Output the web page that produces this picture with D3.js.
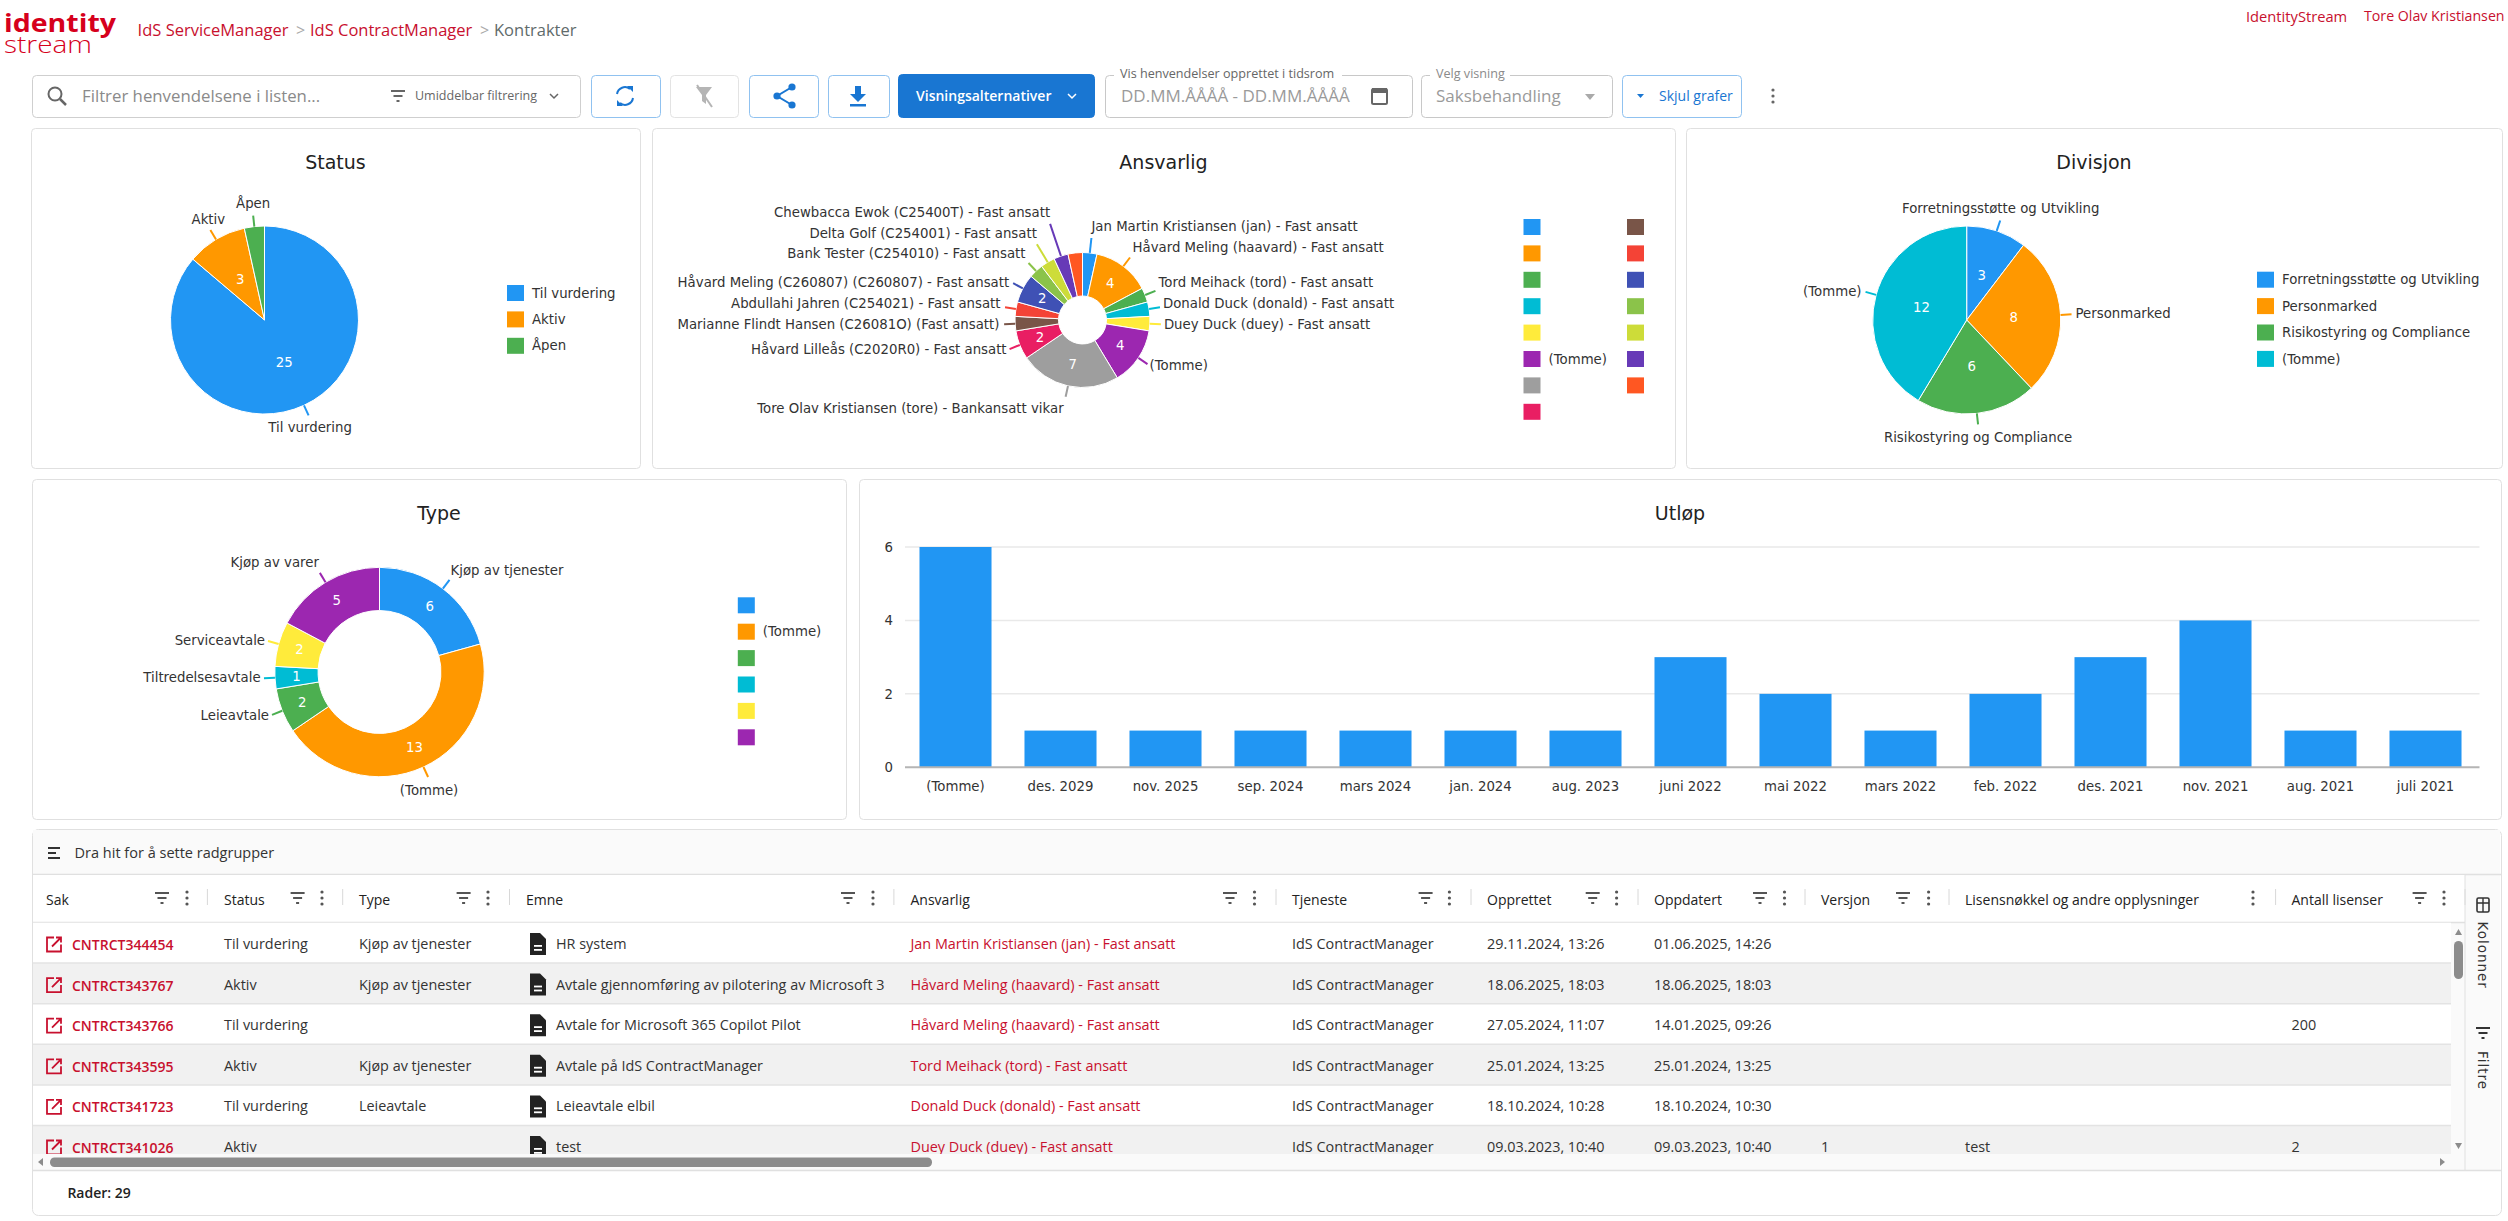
<!DOCTYPE html>
<html>
<head>
<meta charset="utf-8">
<title>Kontrakter</title>
<script src="https://cdn.jsdelivr.net/npm/d3@7"></script>
<style>
  html, body { margin: 0; padding: 0; background: #fff; overflow: hidden; }
  svg { display: block; }
  .chart text { font-family: "DejaVu Sans", sans-serif; fill: #333; }
  .ui text { font-family: "Open Sans", sans-serif; }
</style>
</head>
<body>
<svg id="page" width="2508" height="1221"></svg>
<script>
// Chart data
var PALETTE = ['#2196F3', '#FF9800', '#4CAF50', '#00BCD4', '#FFEB3B', '#9C27B0', '#9E9E9E', '#E91E63',
  '#795548', '#F44336', '#3F51B5', '#8BC34A', '#CDDC39', '#673AB7', '#FF5722'];

var statusNames = ['Til vurdering', 'Aktiv', 'Åpen'];
var statusValues = [25, 3, 1];

var ansvarligNames = ['Jan Martin Kristiansen (jan) - Fast ansatt', 'Håvard Meling (haavard) - Fast ansatt',
  'Tord Meihack (tord) - Fast ansatt', 'Donald Duck (donald) - Fast ansatt', 'Duey Duck (duey) - Fast ansatt',
  '(Tomme)', 'Tore Olav Kristiansen (tore) - Bankansatt vikar', 'Håvard Lilleås (C2020R0) - Fast ansatt',
  'Marianne Flindt Hansen (C26081O) (Fast ansatt)', 'Abdullahi Jahren (C254021) - Fast ansatt',
  'Håvard Meling (C260807) (C260807) - Fast ansatt', 'Bank Tester (C254010) - Fast ansatt',
  'Delta Golf (C254001) - Fast ansatt', 'Chewbacca Ewok (C25400T) - Fast ansatt', ''];
var ansvarligValues = [1, 4, 1, 1, 1, 4, 7, 2, 1, 1, 2, 1, 1, 1, 1];

var divisjonNames = ['Forretningsstøtte og Utvikling', 'Personmarked', 'Risikostyring og Compliance', '(Tomme)'];
var divisjonValues = [3, 8, 6, 12];

var typeNames = ['Kjøp av tjenester', '(Tomme)', 'Leieavtale', 'Tiltredelsesavtale', 'Serviceavtale', 'Kjøp av varer'];
var typeValues = [6, 13, 2, 1, 2, 5];

var utlopMonths = ['(Tomme)', 'des. 2029', 'nov. 2025', 'sep. 2024', 'mars 2024', 'jan. 2024', 'aug. 2023', 'juni 2022',
  'mai 2022', 'mars 2022', 'feb. 2022', 'des. 2021', 'nov. 2021', 'aug. 2021', 'juli 2021'];
var utlopValues = [6, 1, 1, 1, 1, 1, 1, 3, 2, 1, 2, 3, 4, 1, 1];
var utlopTicks = [0, 2, 4, 6];

// Table data
var tableColumns = ['Sak', 'Status', 'Type', 'Emne', 'Ansvarlig', 'Tjeneste', 'Opprettet', 'Oppdatert', 'Versjon',
  'Lisensnøkkel og andre opplysninger', 'Antall lisenser'];
var rowCase = ['CNTRCT344454', 'CNTRCT343767', 'CNTRCT343766', 'CNTRCT343595', 'CNTRCT341723', 'CNTRCT341026'];
var rowStatus = ['Til vurdering', 'Aktiv', 'Til vurdering', 'Aktiv', 'Til vurdering', 'Aktiv'];
var rowType = ['Kjøp av tjenester', 'Kjøp av tjenester', '', 'Kjøp av tjenester', 'Leieavtale', ''];
var rowSubject = ['HR system', 'Avtale gjennomføring av pilotering av Microsoft 3', 'Avtale for Microsoft 365 Copilot Pilot',
  'Avtale på IdS ContractManager', 'Leieavtale elbil', 'test'];
var rowOwner = ['Jan Martin Kristiansen (jan) - Fast ansatt', 'Håvard Meling (haavard) - Fast ansatt',
  'Håvard Meling (haavard) - Fast ansatt', 'Tord Meihack (tord) - Fast ansatt', 'Donald Duck (donald) - Fast ansatt',
  'Duey Duck (duey) - Fast ansatt'];
var rowService = ['IdS ContractManager', 'IdS ContractManager', 'IdS ContractManager', 'IdS ContractManager',
  'IdS ContractManager', 'IdS ContractManager'];
var rowCreated = ['29.11.2024, 13:26', '18.06.2025, 18:03', '27.05.2024, 11:07', '25.01.2024, 13:25', '18.10.2024, 10:28', '09.03.2023, 10:40'];
var rowUpdated = ['01.06.2025, 14:26', '18.06.2025, 18:03', '14.01.2025, 09:26', '25.01.2024, 13:25', '18.10.2024, 10:30', '09.03.2023, 10:40'];
var rowVersion = ['', '', '', '', '', '1'];
var rowLicenseInfo = ['', '', '', '', '', 'test'];
var rowLicenses = ['', '', '200', '', '', '2'];

// Layout constants
var RED = '#c8102e';
var BLUE = '#1976d2';
var BORDER = '#e0e0e0';
var LEADER = 11;
var CHART_FONT = 13.3;
var CELL_FONT = 14.4;

var svg = d3.select('#page');
var ui = svg.append('g').attr('class', 'ui');
var charts = svg.append('g').attr('class', 'chart');

function label(parent, x, y, str, size, fill, anchor) {
  return parent.append('text')
    .attr('x', x).attr('y', y).attr('dy', '.35em')
    .attr('font-size', size)
    .attr('fill', fill || '#333')
    .style('fill', fill || '#333')
    .attr('text-anchor', anchor || 'start')
    .text(str);
}

function box(parent, x, y, w, h, stroke, fill, rx) {
  return parent.append('rect')
    .attr('x', x + 0.5).attr('y', y + 0.5).attr('width', w).attr('height', h)
    .attr('rx', rx === undefined ? 4 : rx)
    .attr('fill', fill || '#fff')
    .attr('stroke', stroke || BORDER);
}

//////////////////////////////////////////////////////////////////////
// CHARTS
//////////////////////////////////////////////////////////////////////

function drawLegend(g, opts) {
  var columnSize = opts.columnSize || opts.names.length;
  var columnStep = opts.columnStep || 0;
  opts.names.forEach(function (name, i) {
    var col = Math.floor(i / columnSize);
    var row = i % columnSize;
    var x = opts.x + col * columnStep;
    var y = opts.y + row * 26.4;
    g.append('rect').attr('x', x).attr('y', y).attr('width', 17).attr('height', 16).attr('fill', PALETTE[i]);
    if (!opts.onlyEmpty || name === '(Tomme)') {
      label(g, x + 25, y + 8, name, CHART_FONT);
    }
  });
}

function drawPie(opts) {
  var g = charts.append('g');
  box(g, opts.panel[0], opts.panel[1], opts.panel[2], opts.panel[3], BORDER, '#fff');
  label(g, opts.panel[0] + opts.panel[2] / 2, opts.panel[1] + 34.5, opts.title, 19, '#222', 'middle');

  var pie = d3.pie().sort(null).value(function (d) { return d; });
  var inner = opts.r * (opts.inner || 0);
  var arc = d3.arc().innerRadius(inner).outerRadius(opts.r);
  var mid = (inner + opts.r) / 2;
  var arcs = pie(opts.values);
  var slices = g.append('g').attr('transform', 'translate(' + opts.cx + ',' + opts.cy + ')');

  slices.selectAll('path').data(arcs).enter().append('path')
    .attr('d', arc)
    .attr('fill', function (d, i) { return PALETTE[i]; })
    .attr('stroke', '#fff')
    .attr('stroke-width', 1);

  arcs.forEach(function (d, i) {
    var angle = (d.startAngle + d.endAngle) / 2;
    var sin = Math.sin(angle);
    var cos = -Math.cos(angle);

    // values only where the slice has room for them
    if ((d.endAngle - d.startAngle) * mid > 12) {
      label(slices, mid * sin, mid * cos, d.value, CHART_FONT, '#fff', 'middle');
    }

    var place = opts.placement[i];
    if (!place) {
      return;
    }
    var end = opts.r + LEADER + (place[3] || 0);
    slices.append('line')
      .attr('x1', opts.r * sin).attr('y1', opts.r * cos)
      .attr('x2', end * sin).attr('y2', end * cos)
      .attr('stroke', PALETTE[i]).attr('stroke-width', 2);
    label(slices, end * sin + place[1], end * cos + place[2], opts.names[i], CHART_FONT, '#333', place[0]);
  });

  drawLegend(g, opts.legend);
}

// [anchor, dx, dy, extra leader length] from the end of each leader line
drawPie({
  title: 'Status', panel: [31, 128, 609, 340], cx: 264.5, cy: 320, r: 94,
  names: statusNames, values: statusValues,
  placement: [['middle', 1.5, 12.5], ['middle', -2, -11], ['middle', 0, -12]],
  legend: { x: 507, y: 285, names: statusNames }
});

drawPie({
  title: 'Ansvarlig', panel: [652, 128, 1023, 340], cx: 1082.5, cy: 320, r: 67.5, inner: 0.355,
  names: ansvarligNames, values: ansvarligValues,
  placement: [['start', 0, -12, 4], ['start', 2.5, -10], ['start', 3, -9], ['start', 3, -4], ['start', 3, 0], ['start', 2, 1.4],
    ['end', -2, 12], ['end', -3, 0], ['end', -4.7, 0], ['end', -4.5, -4], ['end', -4, -1], ['end', -3, -10],
    ['end', 0, -10.6, 10], ['end', 0, -11, 23], null],
  legend: { x: 1523.5, y: 219, names: ansvarligNames, columnSize: 8, columnStep: 103.5, onlyEmpty: true }
});

drawPie({
  title: 'Divisjon', panel: [1686, 128, 816, 340], cx: 1966.7, cy: 320, r: 94,
  names: divisjonNames, values: divisjonValues,
  placement: [['middle', 0.5, -12], ['start', 4, -0.5], ['middle', 0, 13], ['end', -4, -1]],
  legend: { x: 2257, y: 271.7, names: divisjonNames }
});

drawPie({
  title: 'Type', panel: [32, 479, 814, 340], cx: 379.5, cy: 672, r: 104.7, inner: 0.587,
  names: typeNames, values: typeValues,
  placement: [['start', 1, -10], ['middle', 1, 13], ['end', -3, 0.7], ['end', -3.4, -0.6], ['end', -3, -1], ['end', -1, -11]],
  legend: { x: 737.8, y: 597.3, names: typeNames, onlyEmpty: true }
});

function drawUtlop() {
  var g = charts.append('g');
  box(g, 859, 479, 1642, 340, BORDER, '#fff');
  label(g, 1680, 513.5, 'Utløp', 19, '#222', 'middle');

  var x = d3.scaleBand().domain(utlopMonths).range([903, 2478]).paddingInner(0.314).paddingOuter(0.157);
  var y = d3.scaleLinear().domain([0, 6]).range([767.3, 547]);

  g.append('g').selectAll('line').data(utlopTicks.slice(1)).enter().append('line')
    .attr('x1', 905).attr('x2', 2479.5)
    .attr('y1', function (d) { return y(d); }).attr('y2', function (d) { return y(d); })
    .attr('stroke', '#e9e9e9').attr('stroke-width', 1.5);

  g.append('g').selectAll('rect').data(utlopValues).enter().append('rect')
    .attr('x', function (d, i) { return x(utlopMonths[i]); })
    .attr('y', function (d) { return y(d); })
    .attr('width', x.bandwidth())
    .attr('height', function (d) { return y(0) - y(d); })
    .attr('fill', PALETTE[0]);

  g.append('line').attr('x1', 905).attr('x2', 2479.5).attr('y1', y(0)).attr('y2', y(0))
    .attr('stroke', '#b5b5b5').attr('stroke-width', 2);

  var yAxis = g.append('g').attr('transform', 'translate(893,0)')
    .call(d3.axisLeft(y).tickValues(utlopTicks).tickFormat(d3.format('d')).tickSize(0).tickPadding(0));
  var xAxis = g.append('g').attr('transform', 'translate(0,' + 767.3 + ')')
    .call(d3.axisBottom(x).tickSize(0).tickPadding(14));

  [yAxis, xAxis].forEach(function (axis) {
    axis.select('.domain').remove();
    axis.selectAll('text').attr('font-size', CHART_FONT).attr('font-family', '"DejaVu Sans", sans-serif');
  });
}

drawUtlop();

//////////////////////////////////////////////////////////////////////
// HEADER AND TOOLBAR
//////////////////////////////////////////////////////////////////////

function filterIcon(parent, x, y, color) {
  var g = parent.append('g').attr('transform', 'translate(' + x + ',' + y + ')').attr('fill', color || '#666');
  g.append('rect').attr('x', -7).attr('y', -6).attr('width', 14).attr('height', 2);
  g.append('rect').attr('x', -4.5).attr('y', -1).attr('width', 9).attr('height', 2);
  g.append('rect').attr('x', -1.5).attr('y', 4).attr('width', 3).attr('height', 2);
}

function kebab(parent, x, y, color) {
  [-6, 0, 6].forEach(function (dy) {
    parent.append('circle').attr('cx', x).attr('cy', y + dy).attr('r', 1.6).attr('fill', color || '#666');
  });
}

function chevron(parent, x, y, color) {
  parent.append('path')
    .attr('d', 'M' + (x - 4) + ',' + (y - 2) + 'l4,4l4,-4')
    .attr('fill', 'none').attr('stroke', color).attr('stroke-width', 1.5);
}

function drawHeader() {
  label(ui, 4, 23.6, 'identity', 25, '#d6001c').attr('font-weight', 700).attr('textLength', 112).attr('lengthAdjust', 'spacingAndGlyphs');
  label(ui, 4, 44.6, 'stream', 24, '#d6001c').attr('font-weight', 300).attr('textLength', 88).attr('lengthAdjust', 'spacingAndGlyphs');

  label(ui, 137.6, 30, 'IdS ServiceManager', 16.5, RED);
  label(ui, 296, 30, '>', 16, '#aaa');
  label(ui, 310, 30, 'IdS ContractManager', 16.5, RED);
  label(ui, 480, 30, '>', 16, '#aaa');
  label(ui, 494, 30, 'Kontrakter', 16.5, '#5f6b6b');

  label(ui, 2246, 16.5, 'IdentityStream', 14.7, RED);
  label(ui, 2364, 16.5, 'Tore Olav Kristiansen', 14.2, RED);
}

function drawToolbar() {
  var SOFT = '#90c2f0';

  box(ui, 32, 75, 548, 42, '#cfcfcf');
  ui.append('circle').attr('cx', 55).attr('cy', 94).attr('r', 6.5).attr('fill', 'none').attr('stroke', '#666').attr('stroke-width', 2);
  ui.append('line').attr('x1', 60).attr('y1', 99).attr('x2', 66).attr('y2', 105).attr('stroke', '#666').attr('stroke-width', 2.5);
  label(ui, 82, 96, 'Filtrer henvendelsene i listen...', 16.8, '#8a8a8a');
  filterIcon(ui, 398, 96);
  label(ui, 415, 96, 'Umiddelbar filtrering', 12.5, '#666');
  chevron(ui, 554, 96, '#666');

  box(ui, 591, 75, 69, 42, SOFT);
  box(ui, 670, 75, 68, 42, '#e3e3e3');
  box(ui, 749, 75, 69, 42, SOFT);
  box(ui, 828, 75, 61, 42, SOFT);

  // refresh
  ui.append('path').attr('d', 'M617,94a8,8 0 0 1 13,-5M633,98a8,8 0 0 1 -13,5').attr('fill', 'none').attr('stroke', BLUE).attr('stroke-width', 2);
  ui.append('path').attr('d', 'M627,86l6,0l0,6zM623,106l-6,0l0,-6z').attr('fill', BLUE);
  // clear filter
  ui.append('path').attr('d', 'M696,87h16l-6,8v9l-4,-3v-6z').attr('fill', '#b5b5b5');
  ui.append('line').attr('x1', 697).attr('y1', 85).attr('x2', 712).attr('y2', 107).attr('stroke', '#b5b5b5').attr('stroke-width', 2);
  // share
  ui.append('path').attr('d', 'M792,87l-15,9l15,9').attr('fill', 'none').attr('stroke', BLUE).attr('stroke-width', 2);
  [[792, 87], [777, 96], [792, 105]].forEach(function (p) {
    ui.append('circle').attr('cx', p[0]).attr('cy', p[1]).attr('r', 3.6).attr('fill', BLUE);
  });
  // download
  ui.append('path').attr('d', 'M855,86h6v8h5l-8,8l-8,-8h5z').attr('fill', BLUE);
  ui.append('rect').attr('x', 850).attr('y', 104).attr('width', 16).attr('height', 2.5).attr('fill', BLUE);

  box(ui, 898, 74, 196, 43, BLUE, BLUE);
  label(ui, 916, 96, 'Visningsalternativer', 14, '#fff').attr('font-weight', 600);
  chevron(ui, 1072, 96, '#fff');

  // outlined fields
  box(ui, 1105, 75, 307, 42, '#c8c8c8');
  ui.append('rect').attr('x', 1114).attr('y', 70).attr('width', 228).attr('height', 10).attr('fill', '#fff');
  label(ui, 1120, 73.5, 'Vis henvendelser opprettet i tidsrom', 12.6, '#666');
  label(ui, 1121, 96, 'DD.MM.ÅÅÅÅ - DD.MM.ÅÅÅÅ', 17, '#9a9a9a');
  ui.append('rect').attr('x', 1372).attr('y', 89).attr('width', 15).attr('height', 15).attr('rx', 1.5)
    .attr('fill', 'none').attr('stroke', '#666').attr('stroke-width', 2);
  ui.append('rect').attr('x', 1372).attr('y', 88).attr('width', 15).attr('height', 5).attr('fill', '#666');

  box(ui, 1421, 75, 191, 42, '#c8c8c8');
  ui.append('rect').attr('x', 1430).attr('y', 70).attr('width', 80).attr('height', 10).attr('fill', '#fff');
  label(ui, 1436, 73.5, 'Velg visning', 12.6, '#8a8a8a');
  label(ui, 1436, 96, 'Saksbehandling', 17, '#9a9a9a');
  ui.append('path').attr('d', 'M1585,94h10l-5,6z').attr('fill', '#aaa');

  box(ui, 1622, 75, 119, 42, SOFT);
  ui.append('path').attr('d', 'M1637,94h7l-3.5,4z').attr('fill', BLUE);
  label(ui, 1659, 96, 'Skjul grafer', 14, BLUE);

  kebab(ui, 1773, 96, '#666');
}

//////////////////////////////////////////////////////////////////////
// TABLE
//////////////////////////////////////////////////////////////////////

function drawTable() {
  var columnX = [46, 224, 359, 526, 910.5, 1292, 1487, 1654, 1821, 1965, 2291.5];
  var separators = [207.4, 342.7, 509.5, 893.9, 1276, 1471, 1638, 1805, 1949, 2275.6, 2465];
  var filterX = [162, 297.6, 463.6, 848, 1230, 1425.6, 1592.7, 1760, 1903, null, 2419.6];
  var menuX = [187, 322, 488, 873, 1254.5, 1449.4, 1616.6, 1784.5, 1928.6, 2253, 2444];
  var rowTop = 922.5;
  var rowHeight = 40.6;
  var rowsRight = 2451;
  var rowsBottom = 1154;

  box(ui, 32, 829, 2469, 386, BORDER, '#fff', 6);
  ui.append('rect').attr('x', 33).attr('y', 830).attr('width', 2467).attr('height', 340).attr('fill', '#fafafa');

  // group bar
  [0, 5, 10].forEach(function (dy, i) {
    ui.append('rect').attr('x', 48).attr('y', 847 + dy).attr('width', i === 1 ? 8 : 12).attr('height', 2).attr('fill', '#333');
  });
  label(ui, 74.6, 853, 'Dra hit for å sette radgrupper', 14.5, '#333');
  ui.append('line').attr('x1', 32).attr('x2', 2501).attr('y1', 874.5).attr('y2', 874.5).attr('stroke', BORDER).attr('stroke-width', 1.5);

  // header row
  ui.append('rect').attr('x', 33).attr('y', 875).attr('width', 2432).attr('height', 47).attr('fill', '#fff');
  tableColumns.forEach(function (name, i) {
    label(ui, columnX[i], 900, name, 14, '#222').attr('font-weight', 500);
    if (filterX[i]) {
      filterIcon(ui, filterX[i], 898, '#555');
    }
    kebab(ui, menuX[i], 898, '#555');
  });
  separators.forEach(function (x) {
    ui.append('line').attr('x1', x).attr('x2', x).attr('y1', 889).attr('y2', 905).attr('stroke', '#d8d8d8');
  });
  ui.append('line').attr('x1', 32).attr('x2', 2465).attr('y1', 922.5).attr('y2', 922.5).attr('stroke', BORDER).attr('stroke-width', 1.5);

  // rows, cut off by the scroll area
  var defs = svg.append('defs');
  defs.append('clipPath').attr('id', 'rows-clip').append('rect')
    .attr('x', 33).attr('y', rowTop).attr('width', rowsRight - 33).attr('height', rowsBottom - rowTop);

  var rows = ui.append('g').attr('clip-path', 'url(#rows-clip)');

  rowCase.forEach(function (id, i) {
    var top = rowTop + i * rowHeight;
    var y = top + 21.5;
    rows.insert('rect', ':first-child').attr('x', 33).attr('y', top).attr('width', rowsRight - 33).attr('height', rowHeight)
      .attr('fill', i % 2 ? '#f1f1f1' : '#fff');
    rows.append('line').attr('x1', 33).attr('x2', rowsRight).attr('y1', top + rowHeight).attr('y2', top + rowHeight)
      .attr('stroke', '#e3e3e3').attr('stroke-width', 1.5);

    // open link icon
    rows.append('path')
      .attr('d', 'M' + 54 + ',' + (y - 6.5) + 'h-7v14h14v-7M' + 52 + ',' + (y + 2.5) + 'l9,-9M' + 56 + ',' + (y - 6.5) + 'h5v5')
      .attr('fill', 'none').attr('stroke', RED).attr('stroke-width', 1.8);
    label(rows, 72, y + 1, id, 14, RED).attr('font-weight', 600);

    label(rows, columnX[1], y, rowStatus[i], CELL_FONT, '#333');
    label(rows, columnX[2], y, rowType[i], CELL_FONT, '#333');

    // document icon
    rows.append('path')
      .attr('d', 'M' + 530 + ',' + (y - 11) + 'h10l6,6v16h-16z')
      .attr('fill', '#222');
    [1, 5].forEach(function (dy) {
      rows.append('rect').attr('x', 534).attr('y', y + dy).attr('width', 8).attr('height', 1.8).attr('fill', '#fff');
    });
    label(rows, 556, y, rowSubject[i], CELL_FONT, '#333');

    label(rows, columnX[4], y, rowOwner[i], CELL_FONT, RED);
    label(rows, columnX[5], y, rowService[i], CELL_FONT, '#333');
    label(rows, columnX[6], y, rowCreated[i], CELL_FONT, '#333');
    label(rows, columnX[7], y, rowUpdated[i], CELL_FONT, '#333');
    label(rows, columnX[8], y, rowVersion[i], CELL_FONT, '#333');
    label(rows, columnX[9], y, rowLicenseInfo[i], CELL_FONT, '#333');
    label(rows, columnX[10], y, rowLicenses[i], CELL_FONT, '#333');
  });

  // scrollbars
  ui.append('rect').attr('x', 50).attr('y', 1157.5).attr('width', 882).attr('height', 9.5).attr('rx', 4.5).attr('fill', '#8c8c8c');
  ui.append('path').attr('d', 'M43,1158l-5,4l5,4zM2440,1158l5,4l-5,4z').attr('fill', '#8c8c8c');
  ui.append('rect').attr('x', 2454).attr('y', 941).attr('width', 9).attr('height', 38).attr('rx', 4.5).attr('fill', '#8c8c8c');
  ui.append('path').attr('d', 'M2455,935l3.5,-6l3.5,6zM2455,1143l3.5,6l3.5,-6z').attr('fill', '#8c8c8c');

  // side tool panel
  ui.append('line').attr('x1', 2465).attr('x2', 2465).attr('y1', 875).attr('y2', 1170).attr('stroke', BORDER);
  ui.append('rect').attr('x', 2477).attr('y', 898).attr('width', 12).attr('height', 14).attr('rx', 1.5)
    .attr('fill', 'none').attr('stroke', '#333').attr('stroke-width', 1.6);
  ui.append('path').attr('d', 'M2483,898v14M2477,903h12').attr('stroke', '#333').attr('stroke-width', 1.4);
  filterIcon(ui, 2483, 1033, '#333');
  ['Kolonner', 'Filtre'].forEach(function (name, i) {
    ui.append('text')
      .attr('transform', 'translate(2478,' + [921.5, 1051][i] + ') rotate(90)')
      .attr('font-size', 13.5).attr('letter-spacing', 1).attr('fill', '#333')
      .style('font-family', '"DejaVu Sans", sans-serif')
      .text(name);
  });

  // footer
  ui.append('line').attr('x1', 32).attr('x2', 2501).attr('y1', 1170.5).attr('y2', 1170.5).attr('stroke', BORDER).attr('stroke-width', 1.5);
  label(ui, 67.4, 1193, 'Rader: 29', 14, '#222').attr('font-weight', 600);
}

drawHeader();
drawToolbar();
drawTable();
</script>
</body>
</html>
